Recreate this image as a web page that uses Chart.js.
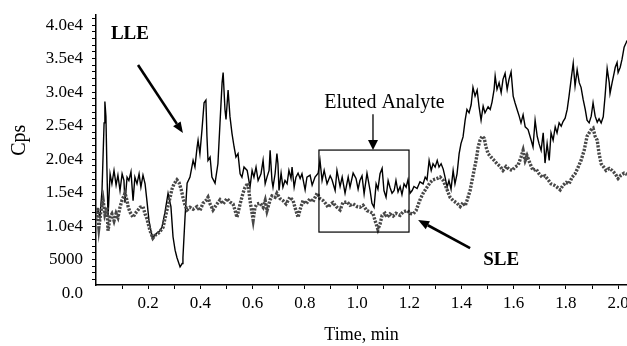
<!DOCTYPE html>
<html><head><meta charset="utf-8">
<script src="https://cdn.jsdelivr.net/npm/chart.js@4.4.1/dist/chart.umd.min.js"></script>
<style>html,body{margin:0;padding:0;background:#fff;}#wrap{width:627px;height:346px;}</style>
</head><body><div id="wrap"><canvas id="c" width="627" height="346"></canvas></div>
<script>
// ---- Data ----
const lleTime = [0.000,0.008,0.015,0.023,0.031,0.034,0.038,0.042,0.046,0.054,0.061,0.069,0.077,0.084,0.092,0.100,0.107,0.111,0.119,0.126,0.134,0.142,0.149,0.157,0.165,0.172,0.180,0.188,0.195,0.203,0.215,0.226,0.234,0.245,0.253,0.264,0.276,0.287,0.295,0.303,0.310,0.322,0.330,0.333,0.341,0.349,0.360,0.372,0.379,0.387,0.391,0.398,0.406,0.414,0.421,0.425,0.429,0.437,0.444,0.456,0.467,0.475,0.483,0.487,0.494,0.498,0.506,0.513,0.521,0.529,0.536,0.544,0.552,0.559,0.567,0.579,0.590,0.598,0.605,0.613,0.621,0.632,0.640,0.648,0.655,0.663,0.667,0.674,0.678,0.686,0.693,0.697,0.701,0.709,0.716,0.724,0.732,0.739,0.747,0.751,0.759,0.766,0.774,0.782,0.789,0.801,0.808,0.820,0.828,0.839,0.851,0.858,0.866,0.874,0.885,0.897,0.904,0.916,0.923,0.935,0.943,0.954,0.966,0.973,0.985,0.996,1.004,1.011,1.019,1.027,1.038,1.050,1.057,1.065,1.073,1.080,1.088,1.096,1.103,1.111,1.119,1.126,1.134,1.142,1.149,1.157,1.165,1.172,1.180,1.188,1.195,1.203,1.211,1.218,1.230,1.241,1.253,1.261,1.268,1.276,1.284,1.291,1.299,1.307,1.314,1.322,1.330,1.337,1.345,1.352,1.360,1.368,1.375,1.383,1.391,1.398,1.406,1.414,1.421,1.429,1.437,1.444,1.452,1.460,1.467,1.475,1.483,1.490,1.502,1.510,1.517,1.525,1.529,1.536,1.544,1.552,1.559,1.567,1.575,1.582,1.590,1.598,1.605,1.613,1.621,1.628,1.636,1.644,1.655,1.667,1.674,1.682,1.690,1.697,1.705,1.713,1.720,1.728,1.736,1.743,1.751,1.759,1.766,1.774,1.782,1.789,1.797,1.805,1.812,1.820,1.828,1.835,1.843,1.851,1.858,1.866,1.874,1.881,1.889,1.897,1.904,1.912,1.920,1.927,1.935,1.943,1.950,1.958,1.966,1.969,1.977,1.985,1.989,1.996,2.000,2.008,2.015,2.023,2.031,2.034];
const lleCps = [11800,12300,11300,15300,25400,28600,26400,18300,11300,17800,16300,18300,16100,17600,15300,17800,16800,13500,17300,16800,18100,13800,17300,16300,17800,15800,17600,16300,13800,10800,8300,8600,9000,9300,9900,12000,14900,12900,8400,6400,5300,3900,4400,5300,11300,16400,17300,19800,18800,21700,22800,20800,24400,28400,28800,23400,19800,20300,17300,16400,19300,25400,31400,32900,27400,25900,30300,26400,23800,21800,20300,20800,17800,17300,18800,18300,15800,18300,17300,18800,16800,17800,19800,16300,17300,18300,21300,16800,15800,17800,20800,19300,15300,17900,15800,16800,16300,18300,17100,18800,15800,17300,17900,17100,17800,15400,17300,17600,16100,17300,17900,19800,16800,18300,16300,17500,16900,15300,18300,15900,17300,14900,17300,15800,17900,17100,15500,16800,17500,14800,17900,15300,13400,12800,16300,15500,17800,18600,15300,14300,16800,15800,14900,15300,16800,15100,15900,14700,16300,15800,16900,14900,15300,15900,15600,16600,16300,17300,16900,19800,18300,19300,18800,19800,18800,19300,18500,17300,15800,16800,15500,18300,16300,17800,20800,22300,23300,25800,27400,26900,28100,30700,29400,30300,27900,25800,27900,26900,27800,27400,28500,30400,32400,30400,31400,29900,31900,32800,30400,31900,33000,29400,28400,27400,26400,25400,26600,24800,24400,22800,21800,25800,23400,22300,21300,23900,19400,22300,19800,23900,22800,24800,23900,25400,24900,25600,26100,27400,29400,31900,34300,30900,33300,31400,30700,28900,27400,25800,25400,26400,28400,26400,25500,26000,25400,26300,29400,33500,31400,29800,31400,32900,33700,34400,32900,33700,34900,36700,37400,37700];

const sleTime = [0.000,0.004,0.011,0.019,0.027,0.034,0.042,0.046,0.054,0.061,0.069,0.077,0.084,0.092,0.100,0.107,0.111,0.119,0.123,0.130,0.142,0.149,0.161,0.169,0.180,0.188,0.195,0.207,0.218,0.226,0.238,0.245,0.257,0.264,0.272,0.284,0.291,0.299,0.310,0.318,0.326,0.333,0.341,0.349,0.360,0.372,0.387,0.398,0.410,0.421,0.429,0.437,0.448,0.460,0.475,0.487,0.502,0.513,0.525,0.533,0.540,0.552,0.563,0.571,0.582,0.590,0.602,0.609,0.617,0.628,0.640,0.648,0.655,0.667,0.674,0.686,0.693,0.705,0.716,0.728,0.743,0.755,0.762,0.774,0.782,0.793,0.805,0.820,0.831,0.847,0.858,0.870,0.881,0.889,0.900,0.908,0.920,0.935,0.946,0.962,0.973,0.985,1.000,1.011,1.023,1.038,1.050,1.061,1.069,1.080,1.088,1.096,1.107,1.115,1.126,1.138,1.149,1.165,1.176,1.192,1.203,1.215,1.226,1.241,1.253,1.268,1.280,1.291,1.307,1.318,1.330,1.341,1.356,1.368,1.383,1.395,1.406,1.414,1.421,1.433,1.441,1.448,1.456,1.464,1.471,1.479,1.487,1.494,1.502,1.513,1.525,1.536,1.548,1.559,1.571,1.582,1.594,1.605,1.617,1.628,1.636,1.644,1.651,1.663,1.674,1.686,1.697,1.709,1.720,1.732,1.743,1.755,1.766,1.778,1.789,1.801,1.812,1.824,1.835,1.847,1.858,1.870,1.881,1.889,1.897,1.904,1.912,1.920,1.927,1.935,1.943,1.954,1.966,1.977,1.989,2.000,2.011,2.023,2.034];
const sleCps = [10800,12800,9800,12300,13900,11800,12800,9300,11300,11800,10800,11900,11300,12800,13900,14500,14900,13800,12900,12100,11300,11800,12400,12800,12900,11800,11100,9300,8200,8600,8900,9200,9800,11100,12400,14300,15500,16300,16900,16500,15500,14300,13100,12400,12800,12500,12900,12300,13400,13800,14300,13300,12400,13100,13900,13300,14100,13600,13300,12300,11300,13300,14900,15800,16400,13800,10900,12800,13300,13400,12800,13800,12300,13900,14500,14300,14900,14100,13800,13300,14300,13800,12800,11300,12500,13800,13300,14100,13600,14900,14100,13800,13300,12800,13300,13500,12900,12400,13500,13600,13100,13300,12900,12800,13100,12300,12100,11900,10800,9500,10300,11600,11900,11300,11800,11500,11900,11600,12100,12300,11900,11800,12300,13900,14900,15800,16500,16900,17100,17300,16800,15800,14300,13800,13400,12900,13500,13000,13800,15300,16900,18300,19800,21800,22800,23400,23100,21800,20800,20300,19800,19300,18900,18300,18900,18500,18300,18800,19100,20300,21300,19800,20500,19300,18300,18500,17800,17300,17500,16900,16300,16100,15800,15400,16100,16500,16300,17300,17800,18800,19800,21300,23400,23900,24400,24600,23400,22800,20800,19300,18900,18300,18600,18300,17800,17100,17600,17900,17700];

const xTickValues = [0.2,0.4,0.6,0.8,1.0,1.2,1.4,1.6,1.8,2.0];
const xTickLabels = ["0.2","0.4","0.6","0.8","1.0","1.2","1.4","1.6","1.8","2.0"];
const yTickValues = [0,5000,10000,15000,20000,25000,30000,35000,40000];
const yTickLabels = ["0.0","5000","1.0e4","1.5e4","2.0e4","2.5e4","3.0e4","3.5e4","4.0e4"];
const yTitle = 'Cps';
const xTitle = 'Time, min';

// minor tick positions (axis decoration only)
const xMinor = []; for (let k = 1; k <= 20; k += 2) xMinor.push(k / 10);
const yMinor = []; for (let k = 2; k <= 41; k++) if (k % 5) yMinor.push(k * 1000);

const SERIF = '"Liberation Serif", "Times New Roman", serif';

function drawArrow(ctx, x1, y1, x2, y2, lw, hl, hw) {
  const a = Math.atan2(y2 - y1, x2 - x1);
  const bx = x2 - hl * Math.cos(a), by = y2 - hl * Math.sin(a);
  ctx.lineWidth = lw;
  ctx.beginPath(); ctx.moveTo(x1, y1); ctx.lineTo(bx, by); ctx.stroke();
  ctx.beginPath();
  ctx.moveTo(x2, y2);
  ctx.lineTo(bx + hw / 2 * Math.sin(a), by - hw / 2 * Math.cos(a));
  ctx.lineTo(bx - hw / 2 * Math.sin(a), by + hw / 2 * Math.cos(a));
  ctx.closePath(); ctx.fill();
}

const annotations = {
  id: 'annotations',
  afterDatasetsDraw(chart) {
    const { ctx, scales: { x, y } } = chart;
    const px = t => x.getPixelForValue(t), py = v => y.getPixelForValue(v);
    ctx.save();
    ctx.fillStyle = '#000'; ctx.strokeStyle = '#000';
    ctx.textAlign = 'center'; ctx.textBaseline = 'middle';
    // y-axis title, rotated, placed beside the upper-middle of the axis
    ctx.save();
    ctx.translate(y.left + 20, py(22800));
    ctx.rotate(-Math.PI / 2);
    ctx.font = '20px ' + SERIF;
    ctx.fillText(yTitle, 0, 0);
    ctx.restore();
    ctx.font = 'bold 19px ' + SERIF;
    ctx.fillText('LLE', px(0.130), py(38650));
    ctx.fillText('SLE', px(1.552), py(4925));
    ctx.font = '20px ' + SERIF;
    ctx.fillText('Eluted Analyte', px(1.105), py(28360));
    // box
    ctx.lineWidth = 1.2;
    const bx1 = px(0.854), bx2 = px(1.199), by1 = py(21340), by2 = py(9100);
    ctx.strokeRect(bx1, by1, bx2 - bx1, by2 - by1);
    // arrows
    drawArrow(ctx, px(1.061), py(26700), px(1.061), py(21340), 1.3, 10, 10);
    drawArrow(ctx, px(0.161), py(34030), px(0.333), py(23880), 2.6, 11, 9);
    drawArrow(ctx, px(1.433), py(6716), px(1.234), py(10900), 2.6, 11, 9);
    ctx.restore();
  }
};

const toPts = (ts, vs) => ts.map((t, i) => ({ x: t, y: vs[i] }));
const findLabel = (vals, labels, v) => { const i = vals.findIndex(u => Math.abs(u - v) < 1e-6); return i >= 0 ? labels[i] : ''; };

new Chart(document.getElementById('c'), {
  type: 'line',
  data: {
    datasets: [
      { label: 'SLE', data: toPts(sleTime, sleCps), borderColor: '#484848', borderWidth: 3.4, borderDash: [2.2, 1.4], pointRadius: 0, tension: 0, fill: false },
      { label: 'LLE', data: toPts(lleTime, lleCps), borderColor: '#000', borderWidth: 1.4, pointRadius: 0, tension: 0, fill: false }
    ]
  },
  options: {
    responsive: false, animation: false, devicePixelRatio: 1,
    layout: { padding: { top: 15, right: 0, left: 0, bottom: 0 } },
    plugins: { legend: { display: false }, tooltip: { enabled: false } },
    scales: {
      x: {
        type: 'linear', min: 0, max: 2.034, bounds: 'data',
        border: { display: true, color: '#000', width: 1.5 },
        grid: { display: true, drawOnChartArea: false, drawTicks: true, tickLength: 4, color: '#000' },
        ticks: { autoSkip: false, maxRotation: 0, padding: 4, color: '#000', font: { family: SERIF, size: 17 },
                 callback: v => findLabel(xTickValues, xTickLabels, v) },
        afterBuildTicks: s => { s.ticks = xTickValues.concat(xMinor).sort((a, b) => a - b).map(v => ({ value: v })); },
        afterFit: s => { s.height = 61; s.paddingLeft = 0; s.paddingRight = 0; },
        title: { display: true, text: xTitle, color: '#000', font: { family: SERIF, size: 18 }, padding: { top: 0, bottom: 0 } }
      },
      y: {
        type: 'linear', min: 1200, max: 41500, bounds: 'data',
        border: { display: true, color: '#000', width: 1.5 },
        grid: { display: true, drawOnChartArea: false, drawTicks: true, tickLength: 4,
                color: c => (c.tick && c.tick.value === 0) ? 'rgba(0,0,0,0)' : '#000' },
        ticks: { autoSkip: false, padding: 9, color: '#000', font: { family: SERIF, size: 17 },
                 callback: v => findLabel(yTickValues, yTickLabels, v) },
        afterBuildTicks: s => { s.ticks = yTickValues.concat(yMinor).sort((a, b) => a - b).map(v => ({ value: v })); },
        afterFit: s => { s.width = 96; s.paddingTop = 0; s.paddingBottom = 0; },
        title: { display: false }
      }
    }
  },
  plugins: [annotations]
});
</script></body></html>
